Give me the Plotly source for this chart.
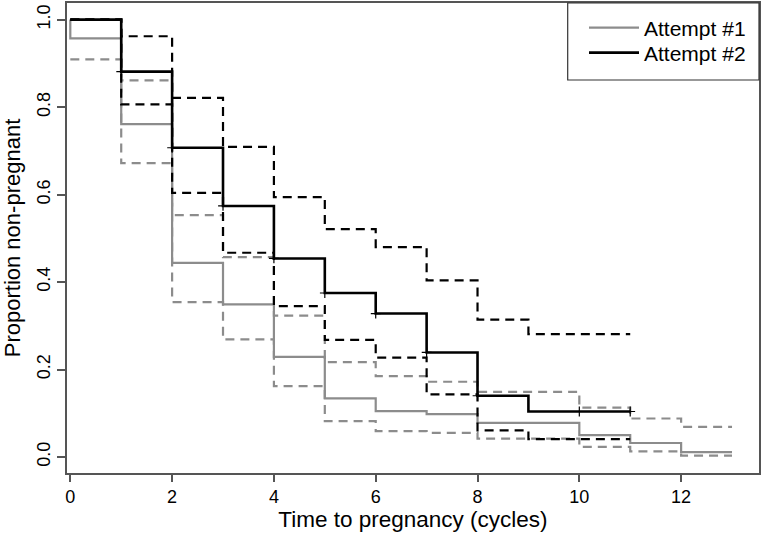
import plotly.graph_objects as go

# ---- data ----
cycles1 = [0, 1, 2, 3, 4, 5, 6, 7, 8, 9, 10, 11, 12, 13]
att1_surv = [0.957, 0.761, 0.444, 0.349, 0.229, 0.134, 0.105, 0.098, 0.078, 0.078, 0.050, 0.032, 0.011, 0.011]
att1_upper = [1.000, 0.861, 0.553, 0.457, 0.323, 0.217, 0.185, 0.172, 0.149, 0.149, 0.113, 0.088, 0.069, 0.069]
att1_lower = [0.909, 0.672, 0.354, 0.269, 0.162, 0.082, 0.059, 0.055, 0.042, 0.042, 0.023, 0.013, 0.003, 0.003]

cycles2 = [0, 1, 2, 3, 4, 5, 6, 7, 8, 9, 10, 11]
att2_surv = [1.000, 0.881, 0.707, 0.574, 0.454, 0.375, 0.328, 0.239, 0.140, 0.104, 0.104, 0.104]
att2_upper = [1.000, 0.962, 0.821, 0.709, 0.594, 0.521, 0.480, 0.404, 0.314, 0.281, 0.281, 0.281]
att2_lower = [1.000, 0.806, 0.604, 0.467, 0.345, 0.268, 0.227, 0.143, 0.061, 0.041, 0.041, 0.041]

censor2_times = [1, 2, 3, 4, 5, 6, 7, 8, 10, 11]

x_ticks = [0, 2, 4, 6, 8, 10, 12]
y_ticks = [0.0, 0.2, 0.4, 0.6, 0.8, 1.0]

GRAY = "#8c8c8c"
BLACK = "#000000"
FONT = "Liberation Sans, Arial, sans-serif"

fig = go.Figure()

# Attempt #1 (gray) - start at 1.0 at time 0
fig.add_trace(go.Scatter(x=[0] + cycles1, y=[1.0] + att1_surv, mode="lines",
                         line=dict(color=GRAY, width=2.2, shape="hv"),
                         name="Attempt #1", showlegend=True, legend="legend"))
fig.add_trace(go.Scatter(x=cycles1, y=att1_upper, mode="lines",
                         line=dict(color=GRAY, width=2.2, shape="hv", dash="9px,6px"),
                         showlegend=False))
fig.add_trace(go.Scatter(x=cycles1, y=att1_lower, mode="lines",
                         line=dict(color=GRAY, width=2.2, shape="hv", dash="9px,6px"),
                         showlegend=False))

# Attempt #2 (black)
fig.add_trace(go.Scatter(x=cycles2, y=att2_upper, mode="lines",
                         line=dict(color=BLACK, width=2.2, shape="hv", dash="9px,6px"),
                         showlegend=False))
fig.add_trace(go.Scatter(x=cycles2, y=att2_lower, mode="lines",
                         line=dict(color=BLACK, width=2.2, shape="hv", dash="9px,6px"),
                         showlegend=False))
fig.add_trace(go.Scatter(x=cycles2, y=att2_surv, mode="lines",
                         line=dict(color=BLACK, width=2.6, shape="hv"),
                         name="Attempt #2", showlegend=True, legend="legend2"))
fig.add_trace(go.Scatter(x=censor2_times, y=[att2_surv[t] for t in censor2_times], mode="markers",
                         marker=dict(symbol="cross-thin", size=7, line=dict(color=BLACK, width=1.2)),
                         showlegend=False, hoverinfo="skip"))

L, R, T, B = 67, 3, 3, 64
W, H = 762, 537
pw, ph = W - L - R, H - T - B

# legend frame (paper coords)
lx0 = (567.7 - L) / pw
ly0 = (H - B - 80) / ph
fig.add_shape(type="rect", xref="paper", yref="paper", x0=lx0, x1=1, y0=ly0, y1=1,
              line=dict(color="#333333", width=1.2), fillcolor="rgba(0,0,0,0)", layer="above")

leg_common = dict(xanchor="left", yanchor="middle", bgcolor="rgba(0,0,0,0)", borderwidth=0,
                  font=dict(family=FONT, size=21, color="black"), itemwidth=50)
lx = (584 - L) / pw
fig.update_layout(
    width=W, height=H,
    margin=dict(l=L, r=R, t=T, b=B, autoexpand=False),
    paper_bgcolor="white", plot_bgcolor="white",
    font=dict(family=FONT, color="black", size=18),
    showlegend=True,
    legend=dict(x=lx, y=1 - (28 - T) / ph, **leg_common),
    legend2=dict(x=lx, y=1 - (53 - T) / ph, **leg_common),
)
fig.update_xaxes(range=[-0.065, 13.53], tickvals=x_ticks, ticktext=[str(v) for v in x_ticks],
                 automargin=False,
                 showgrid=False, zeroline=False, showline=True, mirror=True,
                 linecolor="#555555", linewidth=1.5, ticks="outside", ticklen=7,
                 tickcolor="#555555", tickwidth=1.5, tickfont=dict(size=18),
                 title=dict(text="Time to pregnancy (cycles)", font=dict(size=22.5), standoff=4))
fig.update_yaxes(range=[-0.0366, 1.038], tickvals=y_ticks, ticktext=[f"{v:.1f}" for v in y_ticks],
                 tickangle=-90, automargin=False,
                 showgrid=False, zeroline=False, showline=True, mirror=True,
                 linecolor="#555555", linewidth=1.5, ticks="outside", ticklen=8,
                 tickcolor="#555555", tickwidth=1.5, tickfont=dict(size=18),
                 title=dict(text="Proportion non-pregnant", font=dict(size=22), standoff=13))

fig.write_html("out.html", config={"displayModeBar": False},
               post_script="document.body.style.margin='0';"
                           "document.documentElement.style.overflow='hidden';")
